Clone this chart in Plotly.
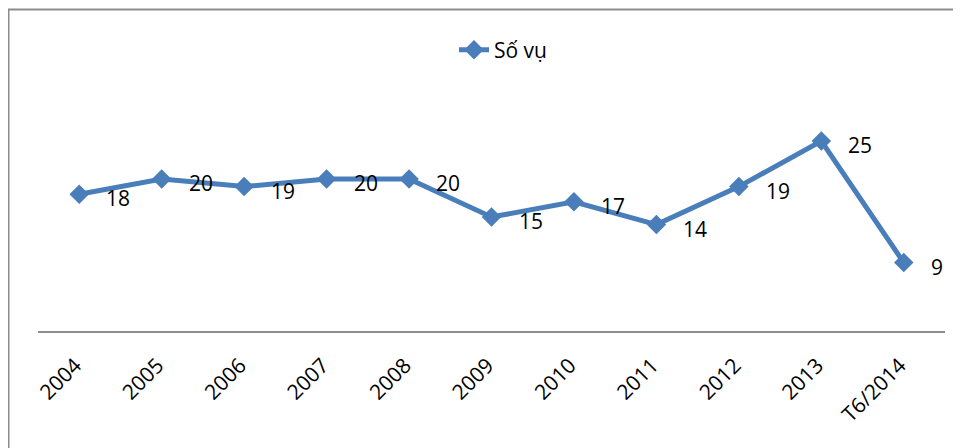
import plotly.graph_objects as go

categories = ["2004", "2005", "2006", "2007", "2008", "2009", "2010", "2011", "2012", "2013", "T6/2014"]
so_vu = [18, 20, 19, 20, 20, 15, 17, 14, 19, 25, 9]
series_name = "Số vụ"

# page body has an 8px margin, so figure is 8px smaller and shifted
OFF = 8
W, H = 961 - OFF, 448 - OFF
L, R, T, B = 30, 16, 95, 117
pw, ph = W - L - R, H - T - B

FONT = "Open Sans, Lato, sans-serif"
BLUE = "#4A7EBB"

fig = go.Figure()
fig.add_trace(go.Scatter(
    x=list(range(len(categories))), y=so_vu, mode="lines+markers", name=series_name,
    line=dict(color=BLUE, width=5),
    marker=dict(symbol="diamond", size=15, color=BLUE),
))

for i, v in enumerate(so_vu):
    fig.add_annotation(x=i, y=v, text=str(v), showarrow=False,
                       xanchor="left", yanchor="middle", xshift=25, yshift=-4,
                       font=dict(family=FONT, size=21, color="#000000"))

def px(x):
    return (x - OFF - L) / pw

def py(y):
    return (H - B - (y - OFF)) / ph

fig.add_shape(type="rect", xref="paper", yref="paper",
              x0=px(8.5), x1=px(961 + 10), y0=py(448 + 10), y1=py(9.5),
              line=dict(color="#8C8C8C", width=2), fillcolor="rgba(0,0,0,0)", layer="below")

fig.update_layout(
    width=W, height=H,
    margin=dict(l=L, r=R, t=T, b=B),
    paper_bgcolor="white", plot_bgcolor="white",
    showlegend=True,
    legend=dict(orientation="h", x=px(503), xanchor="center", y=py(50), yanchor="middle",
                font=dict(family=FONT, size=21, color="#000000"), bgcolor="rgba(0,0,0,0)"),
    font=dict(family=FONT),
)
fig.update_xaxes(
    tickmode="array", tickvals=list(range(len(categories))), ticktext=categories,
    range=[-0.5, len(categories) - 0.5],
    showline=True, linecolor="#8C8C8C", linewidth=2,
    showgrid=False, zeroline=False, ticks="", tickangle=-45,
    ticklabelstandoff=12, ticklabelshift=-4,
    tickfont=dict(family=FONT, size=21, color="#000000"),
)
fig.update_yaxes(range=[0, 30], visible=False, showgrid=False, zeroline=False)

fig.write_html("out.html")
